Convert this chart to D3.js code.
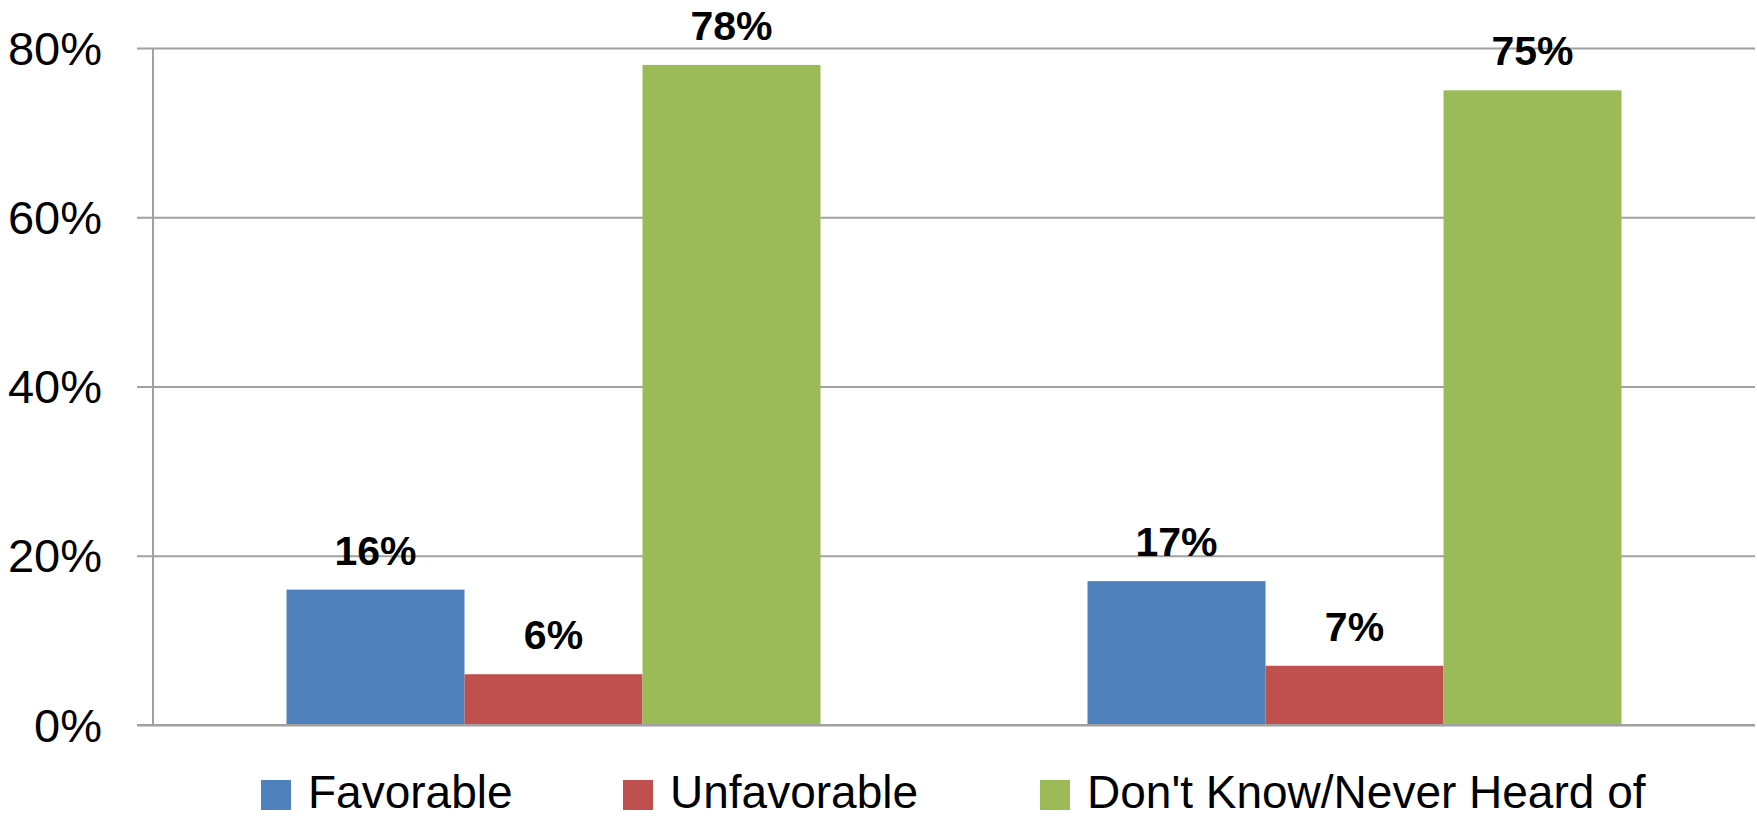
<!DOCTYPE html>
<html>
<head>
<meta charset="utf-8">
<script src="https://cdn.jsdelivr.net/npm/d3@7/dist/d3.min.js"></script>
<style>
  html, body { margin: 0; padding: 0; background: #fff; }
  svg { display: block; }
</style>
</head>
<body>
<svg id="chart" width="1757" height="817"></svg>
<script>
// ---- data ----
const categories = ["Group 1", "Group 2"];
const series = ["Favorable", "Unfavorable", "Don't Know/Never Heard of"];
const favorable = [0.16, 0.17];
const unfavorable = [0.06, 0.07];
const dontKnow = [0.78, 0.75];
const tickValues = [0, 0.2, 0.4, 0.6, 0.8];
const tickLabels = ["0%", "20%", "40%", "60%", "80%"];
const colors = ["#4F81BD", "#C0504D", "#9BBB59"];

const valuesBySeries = [favorable, unfavorable, dontKnow];
const rows = [];
categories.forEach((c, ci) => {
  series.forEach((s, si) => {
    rows.push({ cat: c, ser: s, si, value: valuesBySeries[si][ci] });
  });
});

// ---- layout ----
const svg = d3.select("#chart");
const plotLeft = 153, plotRight = 1755, plotTop = 48, plotBottom = 725;
const font = "'Liberation Sans', Arial, sans-serif";
const gridColor = "#a0a0a0";

const x = d3.scaleBand().domain(categories).range([plotLeft, plotRight])
  .paddingInner(1 / 3).paddingOuter(1 / 6);
const xs = d3.scaleBand().domain(series).range([0, x.bandwidth()]);
const y = d3.scaleLinear().domain([0, 0.8]).range([plotBottom, plotTop]);

// axis + gridlines
const axis = d3.axisLeft(y)
  .tickValues(tickValues)
  .tickFormat((d, i) => tickLabels[i])
  .tickSizeInner(-(plotRight - plotLeft))
  .tickSizeOuter(0)
  .tickPadding(51);

const gAxis = svg.append("g").attr("transform", `translate(${plotLeft},0)`).call(axis);
gAxis.select(".domain").remove();
gAxis.selectAll(".tick line")
  .attr("x1", -16)
  .attr("x2", plotRight - plotLeft)
  .attr("stroke", gridColor)
  .attr("stroke-width", 2);
gAxis.selectAll(".tick text")
  .attr("font-family", font)
  .attr("font-size", 47)
  .attr("fill", "#000")
  .attr("dy", null)
  .attr("y", 16);
gAxis.attr("font-family", font);

// y axis line
svg.append("line")
  .attr("x1", plotLeft).attr("x2", plotLeft)
  .attr("y1", y(0.8)).attr("y2", y(0))
  .attr("stroke", gridColor).attr("stroke-width", 2);

// bars
svg.append("g").selectAll("rect").data(rows).join("rect")
  .attr("x", d => x(d.cat) + xs(d.ser))
  .attr("y", d => y(d.value))
  .attr("width", xs.bandwidth())
  .attr("height", d => y(0) - y(d.value))
  .attr("fill", d => colors[d.si]);

// baseline over bars
svg.append("line")
  .attr("x1", plotLeft - 16).attr("x2", plotRight)
  .attr("y1", y(0)).attr("y2", y(0))
  .attr("stroke", gridColor).attr("stroke-width", 2);

// value labels
svg.append("g").selectAll("text").data(rows).join("text")
  .attr("x", d => x(d.cat) + xs(d.ser) + xs.bandwidth() / 2)
  .attr("y", d => y(d.value) - 25)
  .attr("text-anchor", "middle")
  .attr("font-family", font)
  .attr("font-weight", "bold")
  .attr("font-size", 41)
  .attr("fill", "#000")
  .text(d => Math.round(d.value * 100) + "%");

// legend
const legendX = [261, 623, 1040];
const lg = svg.append("g").selectAll("g").data(series).join("g")
  .attr("transform", (d, i) => `translate(${legendX[i]},780)`);
lg.append("rect")
  .attr("width", 30).attr("height", 30)
  .attr("fill", (d, i) => colors[i]);
lg.append("text")
  .attr("x", 47).attr("y", 28)
  .attr("font-family", font)
  .attr("font-size", 46)
  .attr("fill", "#000")
  .text(d => d);
</script>
</body>
</html>
